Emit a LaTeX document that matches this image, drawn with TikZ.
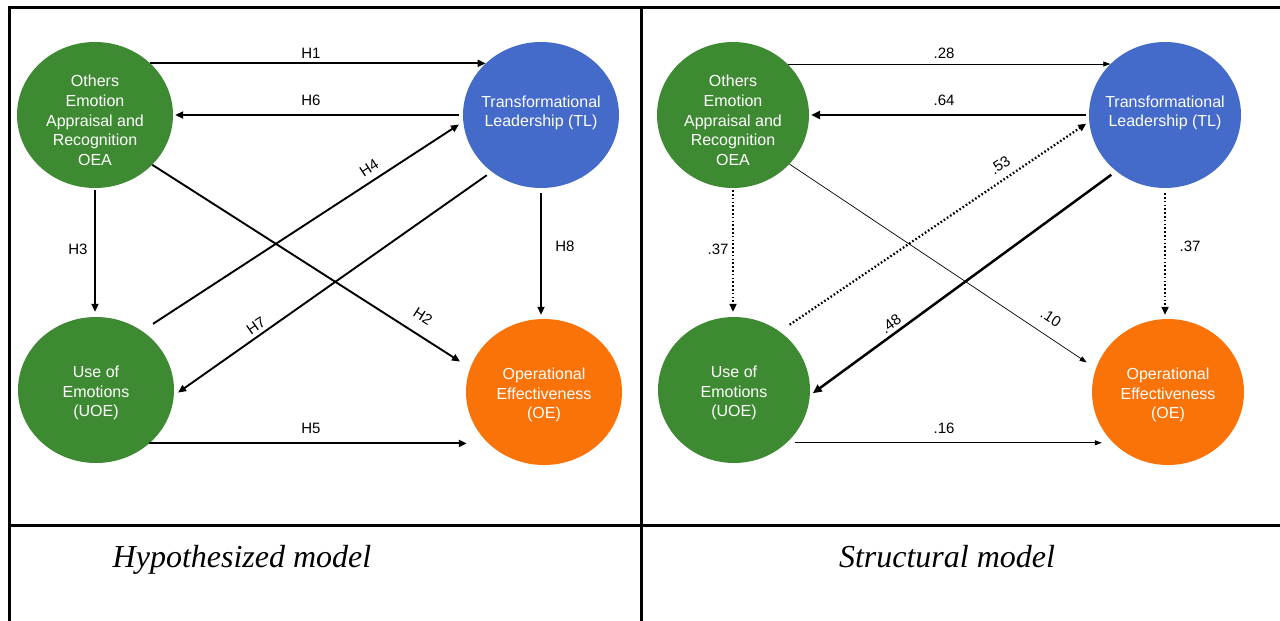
\documentclass[tikz,border=0pt]{standalone}
\usepackage{fontspec}
\setmainfont{Liberation Sans}
\newfontfamily\capfont{Liberation Serif}
\usetikzlibrary{arrows.meta,shapes.geometric}
\definecolor{cgreen}{RGB}{62,138,50}
\definecolor{cblue}{RGB}{68,106,202}
\definecolor{corange}{RGB}{249,115,8}
\begin{document}
\begin{tikzpicture}[x=1pt,y=-1pt,
  latL/.style={ellipse, draw=none, minimum width=156pt, minimum height=146pt, inner sep=0pt},
  latR/.style={ellipse, draw=none, minimum width=152pt, minimum height=146pt, inner sep=0pt},
  txt/.style={text=white, align=center, inner sep=0pt, font=\fontsize{16}{19.7}\selectfont},
  elab/.style={inner sep=0pt, font=\fontsize{15}{18}\selectfont},
  captxt/.style={inner sep=0pt, anchor=base, font=\capfont\itshape\fontsize{32}{38}\selectfont},
  frame/.style={line width=3pt},
  arr/.style={line width=1.9pt, -{Triangle[length=8pt,width=7pt]}},
  thinarr/.style={line width=0.7pt, -{Triangle[length=7pt,width=5pt]}},
  thickarr/.style={line width=2.5pt, -{Triangle[length=9pt,width=8pt]}},
  dotarr/.style={line width=2.3pt, dash pattern=on 1.6pt off 2.2pt, -{Triangle[length=8pt,width=7pt]}}
]
\useasboundingbox (0,0) rectangle (1280,621);
% frame
\draw[frame] (9.5,6) -- (9.5,621);
\draw[frame] (8,7.5) -- (1280,7.5);
\draw[frame] (641.8,7.5) -- (641.8,621);
\draw[frame] (9.5,525.5) -- (1280,525.5);

% ---------------- left panel ----------------
\node[latL, fill=cgreen, label={[txt,yshift=-5.5pt]center:Others\\Emotion\\Appraisal and\\Recognition\\OEA}] (oea) at (95,115) {};
\node[latL, fill=cblue, label={[txt,yshift=2pt]center:Transformational\\Leadership (TL)}] (tl) at (541,115) {};
\node[latL, fill=cgreen, label={[txt,yshift=-3pt]center:Use of\\Emotions\\(UOE)}] (uoe) at (96,390) {};
\node[latL, fill=corange, label={[txt,yshift=-3pt]center:Operational\\Effectiveness\\(OE)}] (oe) at (544,392) {};

\draw[arr] (oea.43) -- (tl.137);
\draw[arr, shorten <=4pt, shorten >=2pt] (tl.west) -- (oea.east);
\draw[arr, shorten <=13pt, shorten >=5pt] (uoe.52) -- (tl.185.5);
\draw[arr, shorten <=6pt, shorten >=5pt] (tl.229) -- (uoe.-4);
\draw[arr, shorten >=12pt] (oea.-41.3) -- (oe.162);
\draw[arr, shorten <=2pt, shorten >=5pt] (oea.south) -- (oea.south |- uoe.north);
\draw[arr, shorten <=5pt, shorten >=4pt] (tl.south) -- (tl.south |- oe.north);
\draw[arr, shorten >=-1pt] (uoe.-45) -- (uoe.-45 -| oe.west);

\node[elab] (lh1) at (311,53) {H1};
\node[elab] (lh6) at (311,100) {H6};
\node[elab, rotate=33] (lh4) at (369,168) {H4};
\node[elab, rotate=35] (lh7) at (256,326) {H7};
\node[elab, rotate=-32.5] (lh2) at (423,316) {H2};
\node[elab] (lh3) at (78,249) {H3};
\node[elab] (lh8) at (565,246) {H8};
\node[elab] (lh5) at (311,428) {H5};

% ---------------- right panel ----------------
\node[latR, fill=cgreen, label={[txt,yshift=-5.5pt]center:Others\\Emotion\\Appraisal and\\Recognition\\OEA}] (oea2) at (733,115) {};
\node[latR, fill=cblue, label={[txt,yshift=2pt]center:Transformational\\Leadership (TL)}] (tl2) at (1165,115) {};
\node[latR, fill=cgreen, label={[txt,yshift=-3pt]center:Use of\\Emotions\\(UOE)}] (uoe2) at (734,390) {};
\node[latR, fill=corange, label={[txt,yshift=-3pt]center:Operational\\Effectiveness\\(OE)}] (oe2) at (1168,392) {};

\draw[thinarr] (oea2.43) -- (tl2.137);
\draw[thickarr, shorten <=3pt, shorten >=2pt] (tl2.west) -- (oea2.east);
\draw[dotarr, shorten <=12pt, shorten >=3.5pt] (uoe2.52) -- (tl2.185.5);
\draw[thickarr, shorten <=6pt, shorten >=3.5pt] (tl2.229) -- (uoe2.-4);
\draw[thinarr, shorten >=11pt] (oea2.-41.3) -- (oe2.162);
\draw[dotarr, shorten <=2pt, shorten >=5pt] (oea2.south) -- (oea2.south |- uoe2.north);
\draw[dotarr, shorten <=5pt, shorten >=4pt] (tl2.south) -- (tl2.south |- oe2.north);
\draw[thinarr, shorten <=8pt, shorten >=-10pt] (uoe2.-45) -- (uoe2.-45 -| oe2.west);

\node[elab] (r28) at (944,53) {.28};
\node[elab] (r64) at (944,100) {.64};
\node[elab, rotate=34] (r53) at (1000,165) {.53};
\node[elab, rotate=36] (r48) at (891,324) {.48};
\node[elab, rotate=-33] (r10) at (1051,318) {.10};
\node[elab] (r37a) at (718,249) {.37};
\node[elab] (r37b) at (1190,246) {.37};
\node[elab] (r16) at (944,428) {.16};

% captions
\node[captxt] (cap1) at (242,567) {Hypothesized model};
\node[captxt] (cap2) at (947,567) {Structural model};
\end{tikzpicture}
\end{document}
